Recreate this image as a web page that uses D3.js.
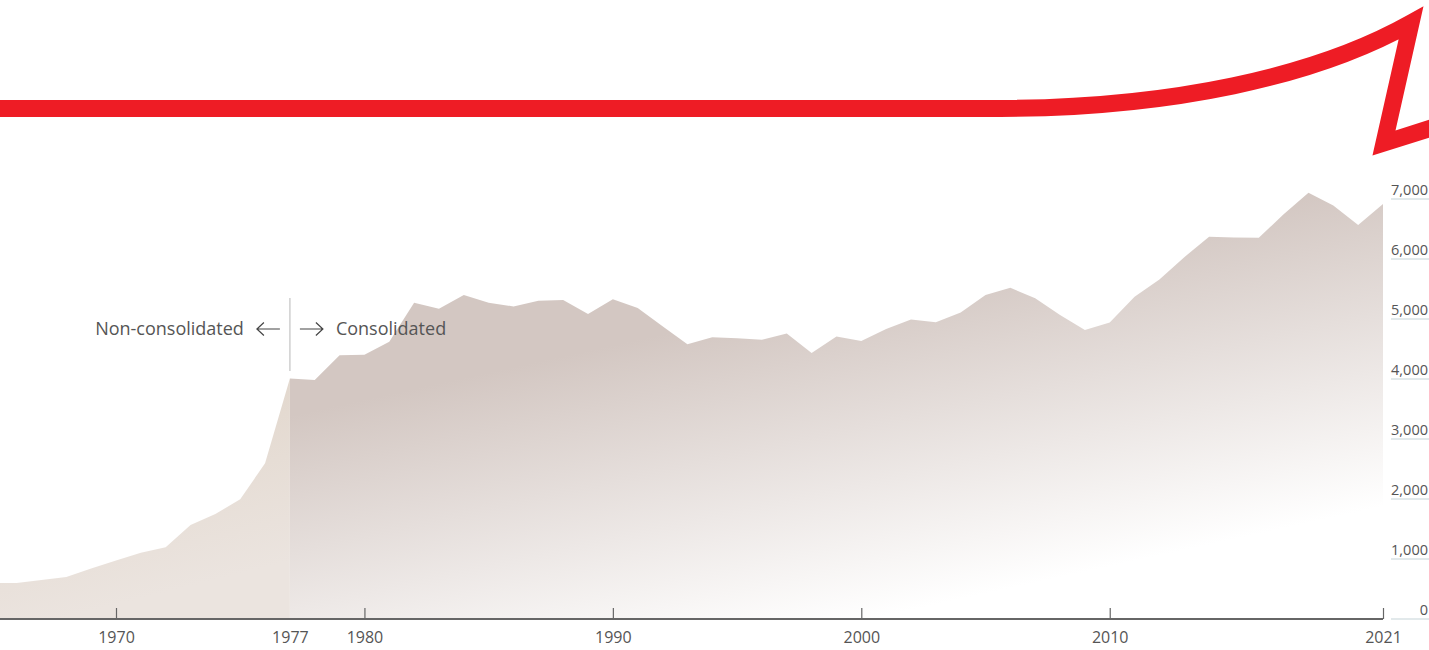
<!DOCTYPE html>
<html>
<head>
<meta charset="utf-8">
<script src="https://cdn.jsdelivr.net/npm/d3@7"></script>
<style>
  html, body { margin: 0; padding: 0; background: #fff; }
  svg { display: block; }
  text { font-family: "Open Sans", "Noto Sans", sans-serif; fill: #555; }
</style>
</head>
<body>
<svg id="chart" width="1429" height="650"></svg>
<script>
// Years and values (millions) before consolidation
const yearsNonConsolidated = [1965, 1966, 1967, 1968, 1969, 1970, 1971, 1972, 1973, 1974, 1975, 1976, 1977];
const valuesNonConsolidated = [600, 600, 650, 700, 840, 975, 1105, 1195, 1565, 1750, 1995, 2595, 4010];

// Years and values on a consolidated basis
const yearsConsolidated = [1977, 1978, 1979, 1980, 1981, 1982, 1983, 1984, 1985, 1986, 1987, 1988, 1989,
  1990, 1991, 1992, 1993, 1994, 1995, 1996, 1997, 1998, 1999, 2000, 2001, 2002, 2003, 2004, 2005,
  2006, 2007, 2008, 2009, 2010, 2011, 2012, 2013, 2014, 2015, 2016, 2017, 2018, 2019, 2020, 2021];
const valuesConsolidated = [4010, 3985, 4395, 4405, 4620, 5270, 5170, 5400, 5270, 5210, 5305, 5315, 5085,
  5330, 5185, 4880, 4580, 4695, 4680, 4655, 4760, 4435, 4710, 4635, 4835, 4990, 4945, 5110, 5400,
  5520, 5345, 5065, 4815, 4940, 5370, 5660, 6030, 6370, 6360, 6355, 6745, 7105, 6890, 6565, 6915];

// Axis labels
const xTickYears = [1970, 1977, 1980, 1990, 2000, 2010, 2021];
const xTickMarks = [1970, 1980, 1990, 2000, 2010, 2021];
const yTickValues = [0, 1000, 2000, 3000, 4000, 5000, 6000, 7000];
const splitYear = 1977;
const leftLabel = "Non-consolidated";
const rightLabel = "Consolidated";

const W = 1429, H = 650;
const svg = d3.select("#chart");

const x = d3.scaleLinear().domain([1970, 2021]).range([116, 1383]);
const y = d3.scaleLinear().domain([0, 7000]).range([619, 199]);

const defs = svg.append("defs");

// beige fill for the earlier period
const gNC = defs.append("linearGradient")
  .attr("id", "fillNC").attr("gradientUnits", "userSpaceOnUse")
  .attr("x1", 0).attr("y1", y(4000)).attr("x2", 60).attr("y2", y(0));
gNC.append("stop").attr("offset", 0).attr("stop-color", "#dfd3c7");
gNC.append("stop").attr("offset", 1).attr("stop-color", "#ebe4df");

// taupe fading to white towards the lower right
const gC = defs.append("linearGradient")
  .attr("id", "fillC").attr("gradientUnits", "userSpaceOnUse")
  .attr("x1", 600).attr("y1", 348).attr("x2", 669).attr("y2", 663);
gC.append("stop").attr("offset", 0).attr("stop-color", "#d3c7c2");
gC.append("stop").attr("offset", 1).attr("stop-color", "#ffffff");

const area = d3.area()
  .x(d => x(d[0]))
  .y0(y(0))
  .y1(d => y(d[1]));

svg.append("path")
  .datum(d3.zip(yearsNonConsolidated, valuesNonConsolidated))
  .attr("fill", "url(#fillNC)")
  .attr("d", area);

svg.append("path")
  .datum(d3.zip(yearsConsolidated, valuesConsolidated))
  .attr("fill", "url(#fillC)")
  .attr("d", area);

// baseline and ticks
svg.append("line")
  .attr("x1", 0).attr("x2", x(2021))
  .attr("y1", y(0)).attr("y2", y(0))
  .attr("stroke", "#666").attr("stroke-width", 2);

const xAxis = svg.append("g")
  .attr("transform", `translate(0,${y(0)})`)
  .call(d3.axisBottom(x)
    .tickValues(xTickYears)
    .tickFormat(d3.format("d"))
    .tickSizeInner(-11)
    .tickSizeOuter(0)
    .tickPadding(13));
xAxis.select(".domain").remove();
xAxis.selectAll(".tick line")
  .attr("stroke", "#666")
  .attr("stroke-width", 1.2)
  .attr("display", d => xTickMarks.includes(d) ? null : "none");
xAxis.selectAll(".tick text")
  .attr("font-size", 16)
  .attr("font-family", null)
  .attr("fill", "#555");

// value labels on the right with underlines
const yg = svg.append("g");
yg.selectAll("line").data(yTickValues).join("line")
  .attr("x1", 1391).attr("x2", W)
  .attr("y1", d => y(d)).attr("y2", d => y(d))
  .attr("stroke", "#c6d4d8").attr("stroke-width", 1.2);
yg.selectAll("text").data(yTickValues).join("text")
  .attr("x", W - 1).attr("y", d => y(d) - 4)
  .attr("text-anchor", "end")
  .attr("font-size", 14.5)
  .text(d3.format(","));

// split annotation
const sx = x(splitYear);
svg.append("line")
  .attr("x1", sx).attr("x2", sx).attr("y1", 298).attr("y2", 371)
  .attr("stroke", "#cfcfcf").attr("stroke-width", 1.5);

const ay = 329;
function arrow(xFrom, xTo) {
  const dir = Math.sign(xTo - xFrom);
  const p = d3.path();
  p.moveTo(xFrom, ay); p.lineTo(xTo, ay);
  p.moveTo(xTo - dir * 7, ay - 6.5); p.lineTo(xTo, ay); p.lineTo(xTo - dir * 7, ay + 6.5);
  svg.append("path").attr("d", p.toString())
    .attr("fill", "none").attr("stroke", "#444").attr("stroke-width", 1.2)
    .attr("stroke-linejoin", "miter");
}
arrow(sx - 10, sx - 33);
arrow(sx + 10, sx + 33);

svg.append("text")
  .attr("x", sx - 46).attr("y", ay + 6)
  .attr("text-anchor", "end").attr("font-size", 18)
  .text(leftLabel);
svg.append("text")
  .attr("x", sx + 46).attr("y", ay + 6)
  .attr("text-anchor", "start").attr("font-size", 18)
  .text(rightLabel);

// red growth swoosh along the top
const sw = d3.path();
sw.moveTo(-10, 108.5);
sw.lineTo(1000, 108.5);
sw.bezierCurveTo(1170, 108, 1315, 77, 1411, 23);
sw.lineTo(1384, 143);
sw.lineTo(W + 15, 124);
svg.append("path")
  .attr("d", sw.toString())
  .attr("fill", "none")
  .attr("stroke", "#ee1c25")
  .attr("stroke-width", 17)
  .attr("stroke-linejoin", "miter")
  .attr("stroke-miterlimit", 10);
</script>
</body>
</html>
